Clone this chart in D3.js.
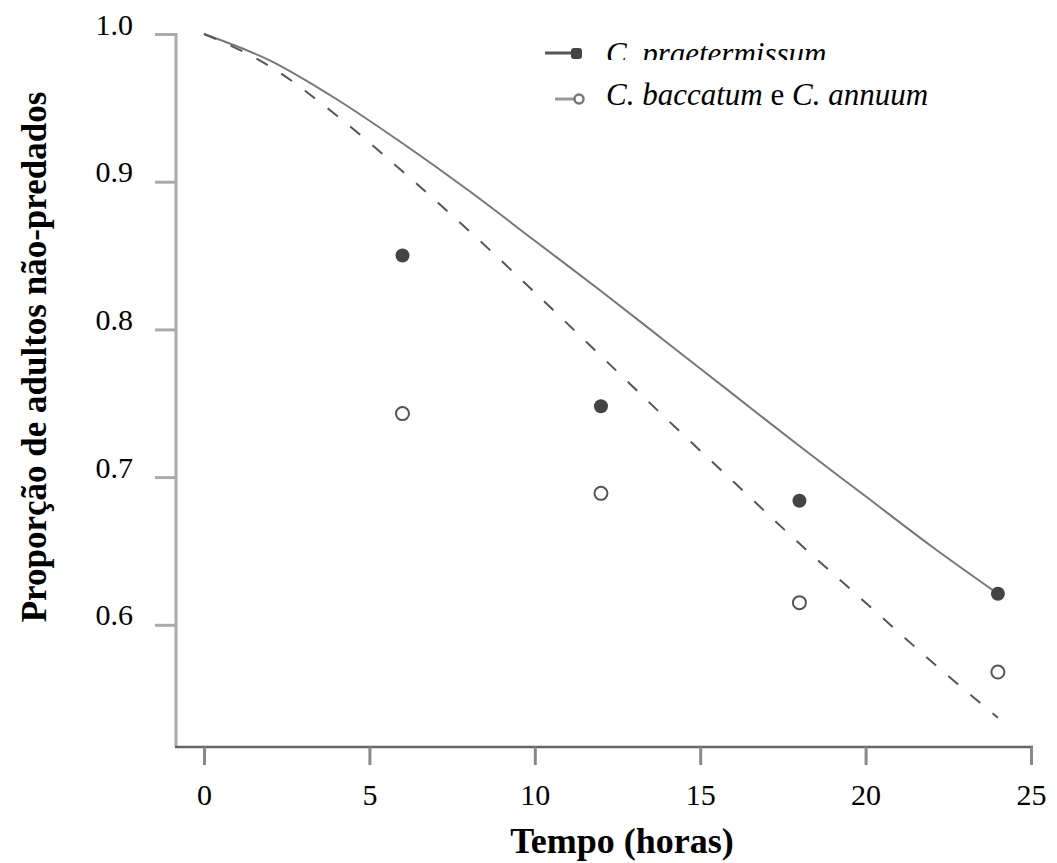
<!DOCTYPE html>
<html>
<head>
<meta charset="utf-8">
<script src="https://cdn.jsdelivr.net/npm/d3@7"></script>
<style>
  body { margin: 0; background: #fff; }
  svg { display: block; }
  svg text { font-family: "Liberation Serif", "Times New Roman", Times, serif; }
</style>
</head>
<body>
<div id="chart"></div>
<script>
// observed proportions (points)
var hours = [6, 12, 18, 24];
var praetermissum = [0.850, 0.748, 0.684, 0.621];
var baccatumAnnuum = [0.743, 0.689, 0.615, 0.568];

// fitted curves
var curveHours = [0, 2, 4, 6, 8, 10, 12, 14, 16, 18, 20, 22, 24];
var fitPraetermissum = [1.0, 0.982, 0.956, 0.926, 0.894, 0.860, 0.826, 0.791, 0.756, 0.721, 0.687, 0.653, 0.621];
var fitBaccatum = [1.0, 0.978, 0.945, 0.907, 0.867, 0.825, 0.782, 0.739, 0.697, 0.655, 0.615, 0.575, 0.537];

var xTicks = [0, 5, 10, 15, 20, 25];
var yTicks = [1.0, 0.9, 0.8, 0.7, 0.6];
var legendLabels = ["C. praetermissum", "C. baccatum", " e ", "C. annuum"];

var svgWidth = 1057;
var svgHeight = 863;
var serif = "'Liberation Serif', 'Times New Roman', Times, serif";

var svg = d3.select("#chart")
    .append("svg")
    .attr("width", svgWidth)
    .attr("height", svgHeight);

var xScale = d3.scaleLinear()
    .domain([0, 25])
    .range([204, 1031]);

var yScale = d3.scaleLinear()
    .domain([0.5, 1.0])
    .range([772.5, 34]);

var axisX = 176;      // where the y axis sits
var axisY = 747;      // where the x axis sits

// y axis line + ticks
svg.append("line")
    .attr("x1", axisX).attr("x2", axisX)
    .attr("y1", yScale(1.0) - 1).attr("y2", axisY)
    .attr("stroke", "#aaa")
    .attr("stroke-width", 3);

var yAxis = d3.axisLeft(yScale)
    .tickValues(yTicks)
    .tickSize(21)
    .tickFormat(d3.format(".1f"));

var yG = svg.append("g")
    .attr("transform", `translate(${axisX},0)`)
    .call(yAxis);
yG.select(".domain").remove();
yG.selectAll(".tick line")
    .attr("stroke", "#aaa")
    .attr("stroke-width", 3);
yG.selectAll(".tick text")
    .attr("x", -43)
    .attr("dy", 0)
    .attr("fill", "#000")
    .style("font-size", "30px")
    .style("font-family", serif);

// x axis line + ticks
svg.append("line")
    .attr("x1", axisX - 1).attr("x2", xScale(25) + 2)
    .attr("y1", axisY).attr("y2", axisY)
    .attr("stroke", "#666")
    .attr("stroke-width", 2.5);

var xAxis = d3.axisBottom(xScale)
    .tickValues(xTicks)
    .tickSize(18)
    .tickFormat(d3.format("d"));

var xG = svg.append("g")
    .attr("transform", `translate(0,${axisY})`)
    .call(xAxis);
xG.select(".domain").remove();
xG.selectAll(".tick line")
    .attr("stroke", "#888")
    .attr("stroke-width", 3);
xG.selectAll(".tick text")
    .attr("y", 58)
    .attr("dy", 0)
    .attr("fill", "#000")
    .style("font-size", "30px")
    .style("font-family", serif);

// fitted curves
var line = d3.line()
    .x((d, i) => xScale(curveHours[i]))
    .y(d => yScale(d))
    .curve(d3.curveMonotoneX);

svg.append("path")
    .datum(fitPraetermissum)
    .attr("d", line)
    .attr("fill", "none")
    .attr("stroke", "#777")
    .attr("stroke-width", 2);

svg.append("path")
    .datum(fitBaccatum)
    .attr("d", line)
    .attr("fill", "none")
    .attr("stroke", "#555")
    .attr("stroke-width", 2)
    .attr("stroke-dasharray", "13,16");

// observed points
svg.selectAll("circle.filled")
    .data(praetermissum)
    .enter()
    .append("circle")
    .attr("class", "filled")
    .attr("cx", (d, i) => xScale(hours[i]))
    .attr("cy", d => yScale(d))
    .attr("r", 7)
    .attr("fill", "#444");

svg.selectAll("circle.open")
    .data(baccatumAnnuum)
    .enter()
    .append("circle")
    .attr("class", "open")
    .attr("cx", (d, i) => xScale(hours[i]))
    .attr("cy", d => yScale(d))
    .attr("r", 6.5)
    .attr("fill", "#fff")
    .attr("stroke", "#555")
    .attr("stroke-width", 2);

// axis titles
svg.append("text")
    .attr("x", 622)
    .attr("y", 853)
    .attr("text-anchor", "middle")
    .style("font-family", serif)
    .style("font-size", "36px")
    .style("font-weight", "bold")
    .text("Tempo (horas)");

svg.append("text")
    .attr("transform", "translate(46,357) rotate(-90)")
    .attr("text-anchor", "middle")
    .style("font-family", serif)
    .style("font-size", "35px")
    .style("font-weight", "bold")
    .text("Proporção de adultos não-predados");

// legend
var legend = svg.append("g");

legend.append("clipPath")
    .attr("id", "legClip")
    .append("rect")
    .attr("x", 590).attr("y", 0)
    .attr("width", 400).attr("height", 60);

legend.append("line")
    .attr("x1", 545).attr("x2", 578)
    .attr("y1", 53).attr("y2", 53)
    .attr("stroke", "#555")
    .attr("stroke-width", 3);
legend.append("rect")
    .attr("x", 571).attr("y", 48)
    .attr("width", 11).attr("height", 11)
    .attr("rx", 3)
    .attr("fill", "#444");
legend.append("text")
    .attr("x", 606)
    .attr("y", 64)
    .attr("clip-path", "url(#legClip)")
    .style("font-family", serif)
    .style("font-size", "31px")
    .style("font-style", "italic")
    .text(legendLabels[0]);

legend.append("line")
    .attr("x1", 555).attr("x2", 575)
    .attr("y1", 99).attr("y2", 99)
    .attr("stroke", "#999")
    .attr("stroke-width", 3);
legend.append("circle")
    .attr("cx", 579).attr("cy", 99)
    .attr("r", 4.5)
    .attr("fill", "#fff")
    .attr("stroke", "#777")
    .attr("stroke-width", 2.5);

var leg2 = legend.append("text")
    .attr("x", 606)
    .attr("y", 105)
    .style("font-family", serif)
    .style("font-size", "31px");
leg2.append("tspan").style("font-style", "italic").text(legendLabels[1]);
leg2.append("tspan").text(legendLabels[2]);
leg2.append("tspan").style("font-style", "italic").text(legendLabels[3]);

</script>
</body>
</html>
